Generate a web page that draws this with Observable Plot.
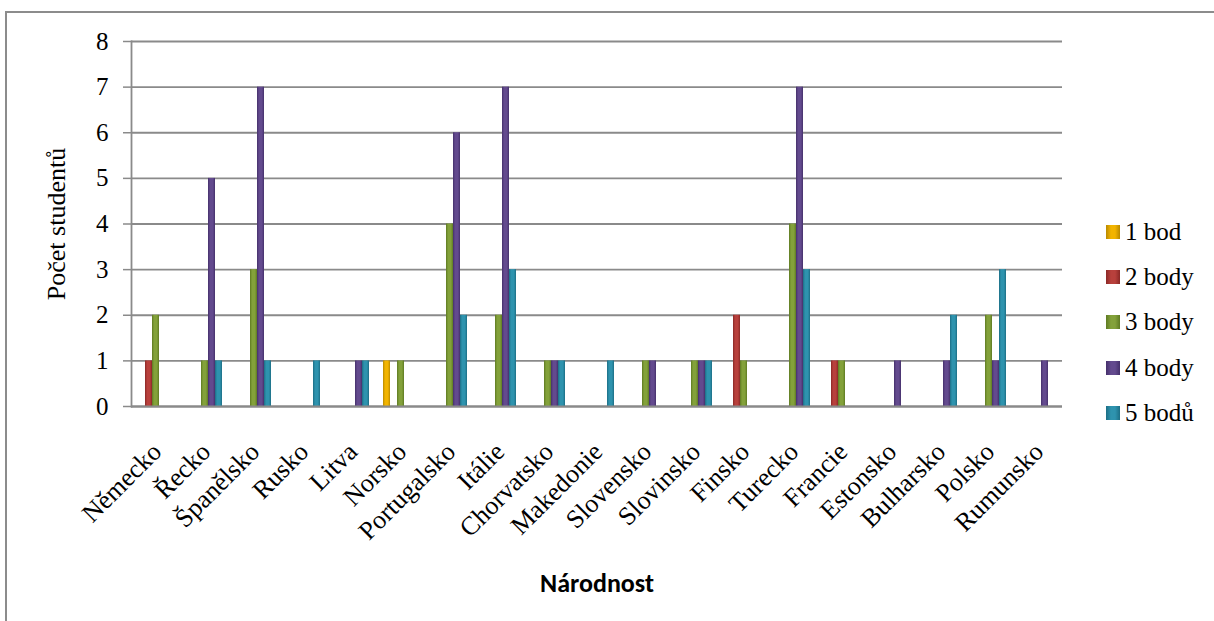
<!DOCTYPE html>
<html>
<head>
<meta charset="utf-8">
<script src="https://cdn.jsdelivr.net/npm/d3@7"></script>
<script src="https://cdn.jsdelivr.net/npm/@observablehq/plot@0.6"></script>
<style>
  html, body { margin: 0; padding: 0; background: #fff; }
  #wrap { position: relative; width: 1214px; height: 621px; overflow: hidden; }
  #border { position: absolute; left: 5px; top: 11px; width: 1240px; height: 700px;
            border-left: 2px solid #8c8c8c; border-top: 2px solid #8c8c8c; }
  #chart { position: absolute; left: 0; top: 0; }
  #legend { position: absolute; left: 1106px; top: 209px; font-family: "Liberation Serif", serif; font-size: 25px; }
  .item { display: flex; align-items: center; height: 45.3px; }
  .sw { width: 14px; height: 14px; margin-right: 5px; box-sizing: border-box; }
  #xtitle { position: absolute; left: 0; width: 1194px; text-align: center; top: 567px;
            font-family: "Carlito", "Lato", sans-serif; font-weight: bold; font-size: 26px; }
</style>
</head>
<body>
<div id="wrap">
  <div id="border"></div>
  <div id="chart"></div>
  <div id="legend"></div>
  <div id="xtitle">Národnost</div>
</div>
<script>
const categories = ["Německo","Řecko","Španělsko","Rusko","Litva","Norsko","Portugalsko","Itálie","Chorvatsko","Makedonie","Slovensko","Slovinsko","Finsko","Turecko","Francie","Estonsko","Bulharsko","Polsko","Rumunsko"];
const seriesNames = ["1 bod","2 body","3 body","4 body","5 bodů"];
const s1 = [0,0,0,0,0,1,0,0,0,0,0,0,0,0,0,0,0,0,0];
const s2 = [1,0,0,0,0,0,0,0,0,0,0,0,2,0,1,0,0,0,0];
const s3 = [2,1,3,0,0,1,4,2,1,0,1,1,1,4,1,0,0,2,0];
const s4 = [0,5,7,0,1,0,6,7,1,0,1,1,0,7,0,1,1,1,1];
const s5 = [0,1,1,1,1,0,2,3,1,1,0,1,0,3,0,0,2,3,0];
const yTicks = [0,1,2,3,4,5,6,7,8];
const colors = ["#F2B400","#B8403C","#83A13A","#634A8E","#2E93AE"];
const darkColors = ["#B88900","#8A2826","#5E7A22","#45306B","#1C6E85"];

const serif = "'Liberation Serif', 'Times New Roman', serif";
const allSeries = [s1,s2,s3,s4,s5];
const data = [];
categories.forEach((c, i) => {
  allSeries.forEach((s, j) => {
    if (s[i] > 0) data.push({country: c, series: seriesNames[j], value: s[i]});
  });
});

const gray = "#8a8a8a";
const plot = Plot.plot({
  width: 1214,
  height: 621,
  marginLeft: 128,
  marginRight: 149,
  marginTop: 41,
  marginBottom: 215,
  style: {fontFamily: serif, background: "transparent"},
  fx: {domain: categories, paddingInner: 0, paddingOuter: 0, label: null, axis: null},
  x: {domain: seriesNames, paddingInner: 0, paddingOuter: 0.85, axis: null},
  y: {domain: [0, 8], label: null},
  color: {domain: seriesNames, range: colors},
  marks: [
    Plot.gridY(yTicks, {stroke: gray, strokeOpacity: 1, strokeWidth: 1.8}),
    Plot.barY(data, {fx: "country", x: "series", y: "value", fill: "series"}),
    Plot.ruleY([0], {stroke: gray, strokeWidth: 1.8}),
    Plot.frame({anchor: "left", facetAnchor: "left", stroke: gray, strokeWidth: 1.8}),
    Plot.axisY(yTicks, {tickSize: 8, tickPadding: 15, stroke: gray, strokeWidth: 1.5, fill: "black", fontSize: 25, fontFamily: serif, label: null, tickFormat: d => String(d)}),
    Plot.axisFx({anchor: "bottom", tickSize: 0, tickRotate: -45, tickPadding: 41, dx: 1, fontSize: 26, fontFamily: serif, fill: "black", label: null})
  ]
});
document.getElementById("chart").appendChild(plot);

// bevel-like gradients on bars
const svg = d3.select(plot);
const defs = svg.insert("defs", ":first-child");
colors.forEach((c, i) => {
  const g = defs.append("linearGradient").attr("id", "g" + i).attr("x1", 0).attr("x2", 1).attr("y1", 0).attr("y2", 0);
  g.append("stop").attr("offset", "0%").attr("stop-color", darkColors[i]);
  g.append("stop").attr("offset", "30%").attr("stop-color", c);
  g.append("stop").attr("offset", "70%").attr("stop-color", c);
  g.append("stop").attr("offset", "100%").attr("stop-color", darkColors[i]);
});
svg.selectAll("rect").each(function() {
  const f = (this.getAttribute("fill") || "").toUpperCase();
  const idx = colors.indexOf(f);
  if (idx >= 0) this.setAttribute("fill", "url(#g" + idx + ")");
});

// y axis title
svg.append("text")
  .attr("transform", "translate(65,224) rotate(-90)")
  .attr("text-anchor", "middle")
  .style("font-size", "26px")
  .style("font-family", serif)
  .attr("fill", "black")
  .text("Počet studentů");

// legend
const leg = d3.select("#legend");
seriesNames.forEach((n, i) => {
  const it = leg.append("div").attr("class", "item");
  it.append("div").attr("class", "sw")
    .style("background", `linear-gradient(90deg, ${darkColors[i]}, ${colors[i]} 35%, ${colors[i]} 65%, ${darkColors[i]})`);
  it.append("span").text(n);
});
</script>
</body>
</html>
